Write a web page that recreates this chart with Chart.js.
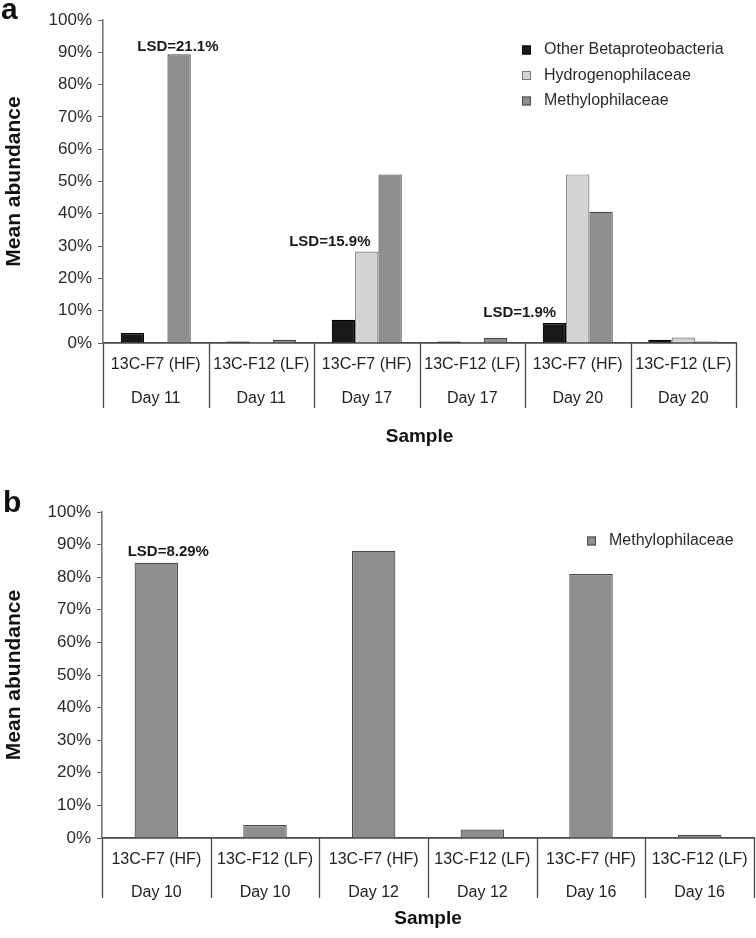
<!DOCTYPE html>
<html><head><meta charset="utf-8">
<script src="https://cdn.jsdelivr.net/npm/chart.js@4.4.0/dist/chart.umd.min.js"></script>
<style>
html,body{margin:0;padding:0;background:#fff;}
canvas{display:block;}
</style></head>
<body>
<canvas id="ca" width="756" height="460" style="width:756px;height:460px"></canvas>
<canvas id="cb" width="756" height="478" style="width:756px;height:478px"></canvas>
<script>
// ---- data ----
const samplesA = ['13C-F7 (HF)','13C-F12 (LF)','13C-F7 (HF)','13C-F12 (LF)','13C-F7 (HF)','13C-F12 (LF)'];
const daysA = ['Day 11','Day 11','Day 17','Day 17','Day 20','Day 20'];
const otherBeta = [3.1, 0.5, 7.2, 0.5, 6.2, 1.0];
const hydrogeno = [0.2, 0.3, 28.3, 0.3, 52.2, 1.7];
const methyloA = [89.4, 1.0, 52.2, 1.6, 40.6, 0.5];
const lsdA = [
  {text:'LSD=21.1%', x:0.21, y:91.6},
  {text:'LSD=15.9%', x:1.65, y:31.3},
  {text:'LSD=1.9%', x:3.45, y:9.3}
];

const samplesB = ['13C-F7 (HF)','13C-F12 (LF)','13C-F7 (HF)','13C-F12 (LF)','13C-F7 (HF)','13C-F12 (LF)'];
const daysB = ['Day 10','Day 10','Day 12','Day 12','Day 16','Day 16'];
const methyloB = [84.4, 4.0, 88.1, 2.6, 81.0, 1.0];
const lsdB = [{text:'LSD=8.29%', x:0.11, y:87.7}];

const yMin = 0, yMax = 100, yStep = 10;
const FONT = "'Liberation Sans', Arial, sans-serif";

// ---- plugin: separators, annotations, legend, panel letter ----
const decor = {
  id: 'decor',
  afterDraw(chart, args, opts) {
    const ctx = chart.ctx;
    const xs = chart.scales.x, ys = chart.scales.y;
    const n = chart.data.labels.length;
    const bottom = chart.chartArea.bottom;
    ctx.save();
    ctx.strokeStyle = '#4a4a4a';
    ctx.lineWidth = 1.3;
    for (let i = 0; i <= n; i++) {
      const x = Math.round(xs.getPixelForValue(i - 0.5)) + 0.5;
      ctx.beginPath();
      ctx.moveTo(x, bottom);
      ctx.lineTo(x, bottom + opts.sepLen);
      ctx.stroke();
    }
    ctx.fillStyle = '#1a1a1a';
    ctx.font = "bold 15px " + FONT;
    ctx.textAlign = 'center';
    ctx.textBaseline = 'middle';
    opts.notes.forEach(a => {
      ctx.fillText(a.text, xs.getPixelForValue(a.x), ys.getPixelForValue(a.y));
    });
    ctx.font = "16px " + FONT;
    ctx.textAlign = 'left';
    chart.data.datasets.forEach((ds, i) => {
      const cy = opts.legY + i * 25.5;
      ctx.fillStyle = ds.backgroundColor;
      ctx.fillRect(opts.legX, cy - 4.5, 9, 9);
      ctx.strokeStyle = ds.borderColor;
      ctx.lineWidth = 1;
      ctx.strokeRect(opts.legX + 0.5, cy - 4, 8, 8);
      ctx.fillStyle = '#2a2a2a';
      ctx.fillText(ds.label, opts.legX + 22, cy);
    });
    ctx.fillStyle = '#111';
    ctx.font = "bold 30px " + FONT;
    ctx.textBaseline = 'alphabetic';
    ctx.fillText(opts.letter, opts.letterX, opts.letterY);
    ctx.restore();
  }
};

function makeChart(id, samples, days, datasets, cfg) {
  return new Chart(document.getElementById(id), {
    type: 'bar',
    data: { labels: samples.map((s, i) => [s, days[i]]), datasets },
    options: {
      responsive: false,
      animation: false,
      devicePixelRatio: 1,
      layout: { padding: { top: cfg.top, right: cfg.right, left: 0, bottom: 0 } },
      datasets: { bar: { categoryPercentage: cfg.catPct, barPercentage: 1.0, borderWidth: 1.2 } },
      plugins: {
        legend: { display: false },
        tooltip: { enabled: false },
        decor: cfg.decor
      },
      scales: {
        x: {
          grid: { display: true, drawOnChartArea: false, drawTicks: false },
          border: { color: '#4a4a4a', width: 1.8 },
          ticks: {
            autoSkip: false, maxRotation: 0, minRotation: 0,
            padding: 5, color: '#222',
            font: { family: FONT, size: 16, lineHeight: cfg.lineH / 16 }
          },
          title: {
            display: true, text: 'Sample', color: '#111',
            font: { family: FONT, size: 19, weight: 'bold' },
            padding: { top: 0, bottom: cfg.titleBottom }
          },
          afterFit(s) { s.height = cfg.xHeight; }
        },
        y: {
          min: yMin, max: yMax,
          grid: { drawOnChartArea: false, drawTicks: true, tickLength: 5, color: '#666' },
          border: { color: '#777', width: 1.6 },
          ticks: {
            stepSize: yStep, padding: 6, color: '#2a2a2a',
            font: { family: FONT, size: 17 },
            callback: v => v + '%'
          },
          title: {
            display: true, text: 'Mean abundance', color: '#111',
            font: { family: FONT, size: 21, weight: 'bold' },
            padding: { top: 2, bottom: 0 }
          },
          afterFit(s) { s.width = cfg.yWidth; }
        }
      }
    },
    plugins: [decor]
  });
}

makeChart('ca', samplesA, daysA, [
  { label: 'Other Betaproteobacteria', data: otherBeta, backgroundColor: '#181818', borderColor: '#000' },
  { label: 'Hydrogenophilaceae', data: hydrogeno, backgroundColor: '#d4d4d4', borderColor: '#7a7a7a' },
  { label: 'Methylophilaceae', data: methyloA, backgroundColor: '#8e8e8e', borderColor: '#4a4a4a' }
], {
  top: 20, right: 20, catPct: 0.664, lineH: 34, titleBottom: 12, xHeight: 117, yWidth: 103,
  decor: { sepLen: 65, notes: lsdA, legX: 522, legY: 50, letter: 'a', letterX: 1, letterY: 19 }
});

makeChart('cb', samplesB, daysB, [
  { label: 'Methylophilaceae', data: methyloB, backgroundColor: '#8e8e8e', borderColor: '#4a4a4a' }
], {
  top: 52, right: 2, catPct: 0.4, lineH: 33, titleBottom: 8, xHeight: 100, yWidth: 102,
  decor: { sepLen: 60, notes: lsdB, legX: 587, legY: 81, letter: 'b', letterX: 3, letterY: 52 }
});
</script>
</body></html>
